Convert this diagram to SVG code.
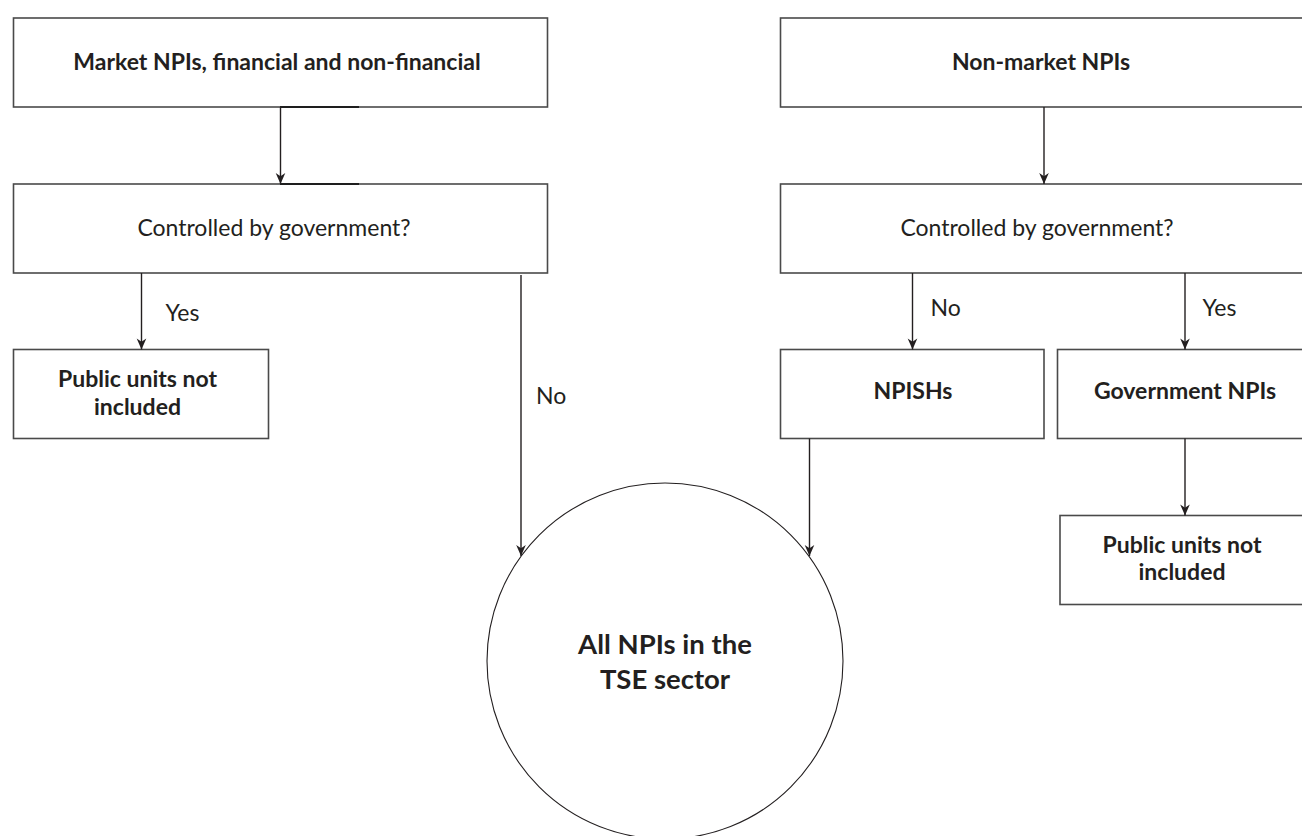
<svg xmlns="http://www.w3.org/2000/svg" width="1302" height="836" viewBox="0 0 1302 836">
  <style>
    .box { fill: #ffffff; stroke: #4a4a4a; stroke-width: 1.6; }
    .seam { stroke: #1e1e1e; stroke-width: 2; }
    .disc { fill: #ffffff; stroke: #231f20; stroke-width: 1.1; }
    .edge { fill: none; stroke: #231f20; stroke-width: 1.4; marker-end: url(#tip); }
    .lbl { font-family: Lato, "Open Sans", "Liberation Sans", sans-serif; font-size: 23px; fill: #231f20; text-anchor: middle; }
    .b { font-weight: bold; }
    .big { font-size: 27.5px; }
    .tag { font-family: Lato, "Open Sans", "Liberation Sans", sans-serif; font-size: 23px; fill: #231f20; }
  </style>
  <defs>
    <marker id="tip" markerUnits="userSpaceOnUse" markerWidth="14" markerHeight="12" viewBox="-11 -6 12 12" refX="0" refY="0" orient="auto">
      <path d="M0,0 L-11,-4.8 L-7.8,0 L-11,4.8 Z" fill="#231f20"/>
    </marker>
  </defs>
  <rect width="1302" height="836" fill="#ffffff"/>

  <!-- market branch -->
  <g id="market-npis">
    <rect class="box" x="13.5" y="18" width="534" height="89"/>
    <line class="seam" x1="280" y1="107" x2="359" y2="107"/>
    <text class="lbl b" x="277" y="70">Market NPIs, financial and non-financial</text>
  </g>
  <g id="market-control">
    <rect class="box" x="13.5" y="184" width="534" height="89"/>
    <line class="seam" x1="280" y1="184" x2="359" y2="184"/>
    <text class="lbl" x="274" y="236">Controlled by government?</text>
  </g>
  <g id="market-public">
    <rect class="box" x="13.5" y="349.5" width="255" height="89"/>
    <text class="lbl b" x="137.5" y="387">Public units not</text>
    <text class="lbl b" x="137.5" y="414.5">included</text>
  </g>

  <!-- non-market branch -->
  <g id="nonmarket-npis">
    <rect class="box" x="780.5" y="18" width="540" height="89"/>
    <text class="lbl b" x="1041" y="70">Non-market NPIs</text>
  </g>
  <g id="nonmarket-control">
    <rect class="box" x="780.5" y="184" width="540" height="89"/>
    <text class="lbl" x="1037" y="236">Controlled by government?</text>
  </g>
  <g id="npishs">
    <rect class="box" x="780.5" y="349.5" width="263.5" height="89"/>
    <text class="lbl b" x="913" y="399">NPISHs</text>
  </g>
  <g id="government-npis">
    <rect class="box" x="1057.5" y="349.5" width="260" height="89"/>
    <text class="lbl b" x="1185" y="399">Government NPIs</text>
  </g>
  <g id="nonmarket-public">
    <rect class="box" x="1060" y="515.5" width="260" height="89"/>
    <text class="lbl b" x="1182" y="553">Public units not</text>
    <text class="lbl b" x="1182" y="580">included</text>
  </g>

  <!-- target set -->
  <g id="tse-sector">
    <circle class="disc" cx="665" cy="661" r="178"/>
    <text class="lbl b big" x="665" y="654">All NPIs in the</text>
    <text class="lbl b big" x="665" y="689">TSE sector</text>
  </g>

  <g id="connectors">
    <line class="edge" x1="280.5" y1="107" x2="280.5" y2="184"/>
    <line class="edge" x1="141.5" y1="273" x2="141.5" y2="349.5"/>
    <line class="edge" x1="521" y1="275" x2="521" y2="556"/>
    <line class="edge" x1="1044" y1="107" x2="1044" y2="184"/>
    <line class="edge" x1="912.5" y1="273" x2="912.5" y2="349.5"/>
    <line class="edge" x1="1185" y1="273" x2="1185" y2="349.5"/>
    <line class="edge" x1="1185" y1="438.5" x2="1185" y2="515.5"/>
    <line class="edge" x1="809.5" y1="438.5" x2="809.5" y2="556"/>
    <text class="tag" x="165.5" y="320.5">Yes</text>
    <text class="tag" x="536" y="404">No</text>
    <text class="tag" x="930.5" y="316">No</text>
    <text class="tag" x="1202.5" y="316">Yes</text>
  </g>
</svg>
